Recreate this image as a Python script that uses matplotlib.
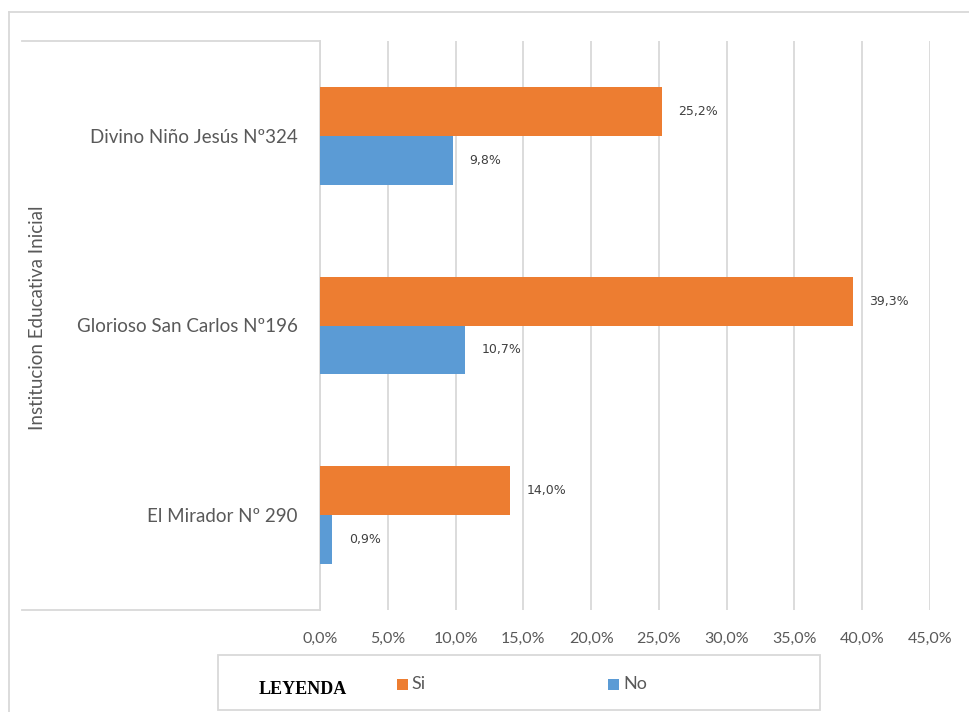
import matplotlib
matplotlib.use("Agg")
import matplotlib.pyplot as plt
from matplotlib.lines import Line2D
from matplotlib.patches import Rectangle
from matplotlib.ticker import FuncFormatter

# data (percent)
categories = ["El Mirador Nº 290", "Glorioso San Carlos Nº196", "Divino Niño Jesús Nº324"]
si_values = [14.0, 39.3, 25.2]
no_values = [0.9, 10.7, 9.8]
x_ticks = [0, 5, 10, 15, 20, 25, 30, 35, 40, 45]

orange = "#ED7D31"
blue = "#5B9BD5"
grid_col = "#D9D9D9"
text_col = "#595959"

W, H = 969, 712


def fx(x):
    return x / W


def fy(y):
    return 1 - y / H


fig = plt.figure(figsize=(W / 100, H / 100), dpi=100)
fig.patch.set_facecolor("white")

# plot area in pixels: x 320..930, y 41..610
ax = fig.add_axes([fx(320), fy(610), fx(930) - fx(320), fy(41) - fy(610)])
ax.set_xlim(0, 45)
ax.set_ylim(-0.5, 2.5)

h = 0.258
ys = list(range(len(categories)))
ax.barh([y + h / 2 for y in ys], si_values, height=h, color=orange, zorder=3)
ax.barh([y - h / 2 for y in ys], no_values, height=h, color=blue, zorder=3)

for y, v in zip(ys, si_values):
    ax.annotate(f"{v:.1f}%".replace(".", ","), (v, y + h / 2), xytext=(12, 0),
                textcoords="offset points", va="center", ha="left",
                fontsize=9, color="#404040", family="DejaVu Sans")
for y, v in zip(ys, no_values):
    ax.annotate(f"{v:.1f}%".replace(".", ","), (v, y - h / 2), xytext=(12, 0),
                textcoords="offset points", va="center", ha="left",
                fontsize=9, color="#404040", family="DejaVu Sans")

ax.set_xticks(x_ticks)
ax.xaxis.set_major_formatter(FuncFormatter(lambda v, p: f"{v:.1f}%".replace(".", ",")))
ax.grid(axis="x", color=grid_col, linewidth=1.3, zorder=0)
ax.set_yticks(ys)
ax.set_yticklabels(categories)
ax.tick_params(axis="both", length=0, labelcolor=text_col)
ax.tick_params(axis="x", pad=16, labelsize=11.5)
ax.tick_params(axis="y", pad=16, labelsize=13.5)
for lab in ax.get_xticklabels() + ax.get_yticklabels():
    lab.set_family("Lato")
for s in ["top", "right", "bottom"]:
    ax.spines[s].set_visible(False)
ax.spines["left"].set_color(grid_col)
ax.spines["left"].set_linewidth(1.3)

fig.text(fx(38), fy(318), "Institucion Educativa Inicial", rotation=90,
         ha="center", va="center", fontsize=13.5, color=text_col, family="Lato")

# frame lines
line_kw = dict(color=grid_col, linewidth=1.3, transform=fig.transFigure)
fig.add_artist(Line2D([fx(9), fx(975)], [fy(12), fy(12)], **line_kw))
fig.add_artist(Line2D([fx(9), fx(9)], [fy(12), fy(720)], **line_kw))
fig.add_artist(Line2D([fx(22), fx(320)], [fy(41), fy(41)], **line_kw))
fig.add_artist(Line2D([fx(22), fx(320)], [fy(610), fy(610)], **line_kw))

# legend box
fig.add_artist(Rectangle((fx(218), fy(710)), fx(820) - fx(218), fy(655) - fy(710),
                         transform=fig.transFigure, facecolor="white",
                         edgecolor=grid_col, linewidth=1.3))
fig.text(fx(303), fy(689), "LEYENDA", ha="center", va="center", fontsize=13,
         fontweight="bold", family="Liberation Serif", color="black")
fig.add_artist(Rectangle((fx(397), fy(690)), fx(11), 11 / H, transform=fig.transFigure,
                         facecolor=orange, edgecolor="none"))
fig.text(fx(411), fy(684), "Si", ha="left", va="center", fontsize=13,
         family="Lato", color=text_col)
fig.add_artist(Rectangle((fx(608), fy(690)), fx(11), 11 / H, transform=fig.transFigure,
                         facecolor=blue, edgecolor="none"))
fig.text(fx(623), fy(684), "No", ha="left", va="center", fontsize=13,
         family="Lato", color=text_col)

fig.savefig("out.png", dpi=100)
